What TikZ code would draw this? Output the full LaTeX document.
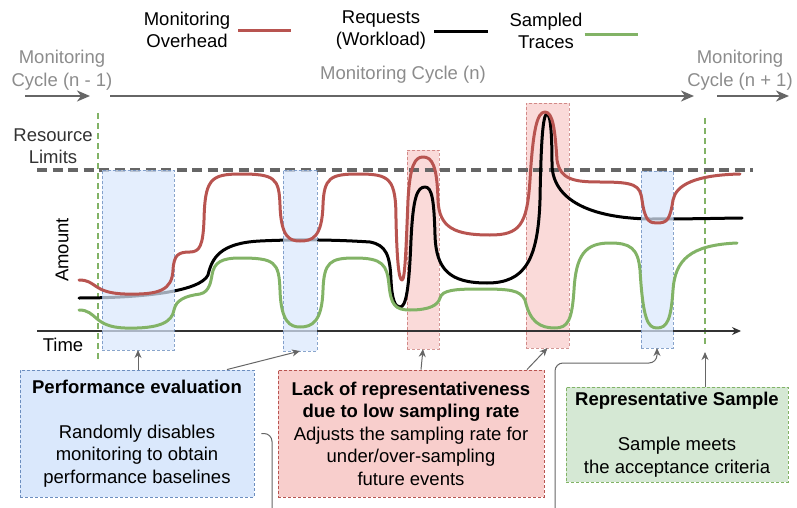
\documentclass[tikz,border=0pt]{standalone}
\usepackage{fontspec}
\setmainfont{Liberation Sans}
\usetikzlibrary{arrows.meta}
\definecolor{redc}{HTML}{B85450}
\definecolor{greenc}{HTML}{82B366}
\definecolor{bluec}{HTML}{6C8EBF}
\definecolor{bluef}{HTML}{DAE8FC}
\definecolor{redf}{HTML}{F8CECC}
\definecolor{greenf}{HTML}{D5E8D4}
\definecolor{grayc}{HTML}{666666}
\definecolor{graytxt}{HTML}{8C8C8C}
\definecolor{darktxt}{HTML}{333333}
\begin{document}
\begin{tikzpicture}[x=1pt,y=-1pt,
  txt/.style={font=\fontsize{18.5}{22.5}\selectfont, align=center, inner sep=0pt},
  box/.style={txt, draw, densely dashed, line width=0.9pt, minimum height=0pt},
  bluebox/.style={box, fill=bluef, draw=bluec},
  redbox/.style={box, fill=redf, draw=redc},
  greenbox/.style={box, fill=greenf, draw=greenc},
  bluer/.style={fill=bluef, fill opacity=0.72, draw=bluec, draw opacity=0.8, densely dashed, line width=0.8pt, inner sep=0pt, outer sep=0pt},
  redr/.style={fill=redf, fill opacity=0.75, draw=redc, draw opacity=0.6, densely dashed, line width=0.8pt, inner sep=0pt, outer sep=0pt},
  curve/.style={line width=3pt, line cap=round, line join=round},
  conn/.style={draw=grayc, line width=1pt, -{Stealth[length=8pt,width=7pt,inset=2.5pt]}},
  cyc/.style={draw=grayc, line width=2pt, -{Stealth[length=13pt,width=11pt,inset=4pt]}},
  vline/.style={draw=greenc, line width=1.6pt, dash pattern=on 6pt off 4pt},
  limline/.style={draw=grayc, line width=3.4pt, dash pattern=on 10pt off 5.5pt},
]
\useasboundingbox (0,0) rectangle (797,508);
\clip (0,0) rectangle (797,508);

% legend
\node[txt] (lmo) at (187,30) {Monitoring\\Overhead};
\draw[redc, line width=3pt] (lmo.east) ++(8,1) -- ++(53,0);
\node[txt] (lrq) at (381,30) {Requests\\(Workload)};
\draw[black, line width=3pt] (lrq.east) ++(8,2) -- ++(54,0);
\node[txt] (lst) at (546,31) {Sampled\\Traces};
\draw[greenc, line width=3pt] (lst.east) ++(2,4) -- ++(53,0);

% cycle labels
\node[txt, text=graytxt] (c0) at (62,70) {Monitoring\\Cycle (n - 1)};
\node[txt, text=graytxt] (c1) at (403,75) {Monitoring Cycle (n)};
\node[txt, text=graytxt] (c2) at (740,70) {Monitoring\\Cycle (n + 1)};
\coordinate (a0s) at (25,96); \coordinate (a0e) at (90,96);
\coordinate (a1s) at (110,96); \coordinate (a1e) at (694,96);
\coordinate (a2s) at (717,96); \coordinate (a2e) at (789,96);
\draw[cyc] (a0s) -- (a0e);
\draw[cyc] (a1s) -- (a1e);
\draw[cyc] (a2s) -- (a2e);

% axis labels
\node[txt, text=darktxt] (rl) at (53,146) {Resource\\Limits};
\node[txt, rotate=90] (am) at (62,250) {Amount};
\node[txt] (tm) at (63,345) {Time};

% green vertical dashed lines
\coordinate (g1t) at (98,113); \coordinate (g1b) at (98,362);
\coordinate (g2t) at (705,118); \coordinate (g2b) at (705,346);
\draw[vline] (g1t) -- (g1b);
\draw[vline] (g2t) -- (g2b);

% red rects (behind)
\node[redr, minimum width=32, minimum height=199] (r1) at (423,249.5) {};
\node[redr, minimum width=43, minimum height=245] (r2) at (547.5,225.5) {};

% resource limit line
\coordinate (ls) at (37,170); \coordinate (le) at (753,170);
\path[limline] (ls) -- (le);

% time axis
\coordinate (ts) at (37,331); \coordinate (te) at (741,331);
\draw[darktxt, line width=1.2pt, -{Stealth[length=9pt,width=8pt,inset=3pt]}] (ts) -- (te);

% black curve (under blue rects)
\draw[curve, black] (79,298) .. controls (140,298) and (200,292) .. (208,275)
 .. controls (212,258) and (220,243) .. (260,241)
 .. controls (300,239) and (340,240) .. (370,242)
 .. controls (386,245) and (390,255) .. (391,280)
 .. controls (392,300) and (395,307) .. (400,307)
 .. controls (406,307) and (409,290) .. (411,240)
 .. controls (413,198) and (417,187) .. (425,187)
 .. controls (432,187) and (434,200) .. (435,235)
 .. controls (436,270) and (450,283) .. (487,283)
 .. controls (525,283) and (538,260) .. (540,200)
 .. controls (541,140) and (543,114) .. (547,114)
 .. controls (551,114) and (552,140) .. (552,165)
 .. controls (553,200) and (590,218) .. (650,219)
 .. controls (700,219) and (730,218) .. (742,218);

% blue rects
\node[bluer, minimum width=72, minimum height=180] (b1) at (138,260) {};
\node[bluer, minimum width=34, minimum height=181] (b2) at (300,260.5) {};
\node[bluer, minimum width=32, minimum height=177] (b3) at (657,259.5) {};

% red curve
\draw[curve, redc] (79,280) .. controls (97,280) and (92,293) .. (125,294)
 .. controls (160,295) and (172,290) .. (173,270)
 .. controls (174,255) and (178,252) .. (190,252)
 .. controls (200,252) and (203,245) .. (204,220)
 .. controls (205,180) and (210,174) .. (240,174)
 .. controls (275,174) and (279,178) .. (280,205)
 .. controls (281,238) and (290,241) .. (300,241)
 .. controls (312,241) and (322,238) .. (323,205)
 .. controls (324,178) and (330,174) .. (358,174)
 .. controls (390,174) and (396,178) .. (396,220)
 .. controls (397,262) and (399,280) .. (402,280)
 .. controls (405,280) and (406,250) .. (408,200)
 .. controls (410,165) and (415,157) .. (423,157)
 .. controls (432,157) and (437,165) .. (438,200)
 .. controls (439,228) and (455,235) .. (490,235)
 .. controls (520,235) and (527,225) .. (530,180)
 .. controls (533,130) and (537,112) .. (545,112)
 .. controls (553,112) and (555,130) .. (557,160)
 .. controls (560,180) and (575,182) .. (600,182)
 .. controls (635,182) and (640,185) .. (642,200)
 .. controls (645,222) and (650,223) .. (657,223)
 .. controls (667,223) and (670,220) .. (673,200)
 .. controls (676,185) and (695,175) .. (740,174);

% green curve
\draw[curve, greenc] (79,310) .. controls (97,310) and (93,327) .. (125,328)
 .. controls (160,329) and (172,322) .. (174,310)
 .. controls (176,300) and (185,296) .. (200,294)
 .. controls (210,292) and (211,280) .. (212,275)
 .. controls (214,262) and (222,258) .. (240,258)
 .. controls (275,258) and (279,262) .. (280,290)
 .. controls (281,322) and (290,327) .. (300,327)
 .. controls (312,327) and (322,322) .. (323,290)
 .. controls (324,262) and (330,258) .. (355,258)
 .. controls (383,258) and (387,265) .. (389,285)
 .. controls (391,305) and (395,310) .. (410,310)
 .. controls (430,310) and (438,305) .. (440,298)
 .. controls (442,290) and (455,289) .. (480,289)
 .. controls (510,289) and (520,290) .. (525,300)
 .. controls (530,322) and (540,328) .. (555,328)
 .. controls (568,328) and (572,320) .. (574,290)
 .. controls (576,255) and (585,243) .. (610,243)
 .. controls (630,243) and (638,248) .. (640,270)
 .. controls (643,320) and (648,328) .. (657,328)
 .. controls (667,328) and (671,320) .. (673,290)
 .. controls (675,260) and (690,245) .. (737,243);

% boxes
\node[bluebox, minimum width=234, minimum height=127] (pe) at (137,433.5)
  {\textbf{Performance evaluation}\\[22.5pt]Randomly disables\\monitoring to obtain\\performance baselines};
\node[redbox, minimum width=266, minimum height=127] (lr) at (411,433.5)
  {\textbf{Lack of representativeness}\\\textbf{due to low sampling rate}\\Adjusts the sampling rate for\\under/over-sampling\\future events};
\node[greenbox, minimum width=222, minimum height=95] (rs) at (677,434.5)
  {\textbf{Representative Sample}\\[22.5pt]Sample meets\\the acceptance criteria};

% connectors
\draw[conn] (pe.north -| b1.south) -- (b1.south);
\draw[conn] ([xshift=90pt]pe.north) -- (b2.south);
\draw[conn] ([xshift=10pt]lr.north) -- (r1.south);
\draw[conn] ([xshift=116pt]lr.north) -- (r2.south);
\coordinate (g2a) at (705,352);
\draw[conn] (rs.north -| g2a) -- (g2a);
\coordinate (lc1) at (272,530);
\coordinate (lc2) at (555,363);
\draw[conn, rounded corners=8pt] ([xshift=7pt]pe.east) -| (lc1) -| (lc2) -| (b3.south);
\end{tikzpicture}
\end{document}
